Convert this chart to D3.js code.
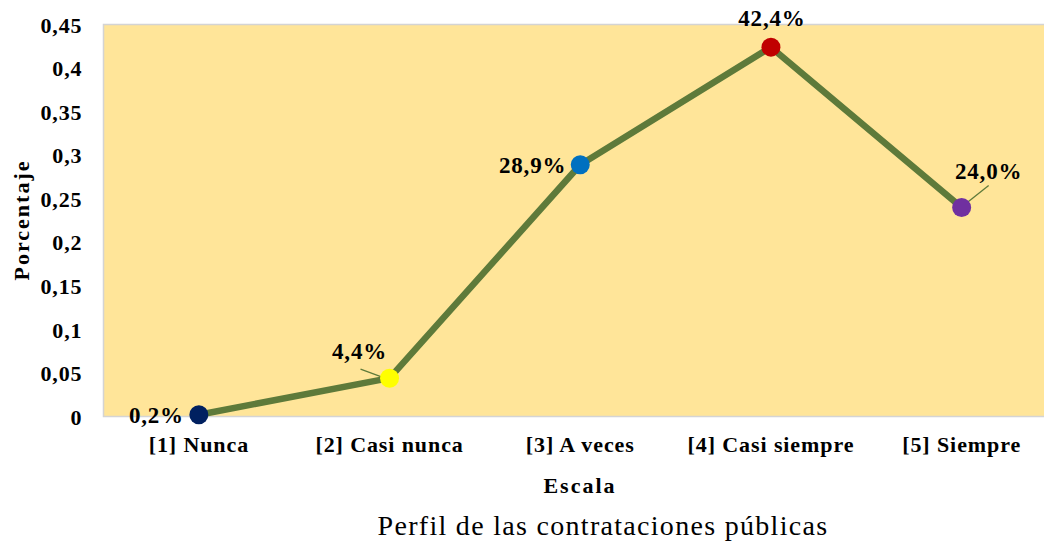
<!DOCTYPE html>
<meta charset="utf-8">
<script src="https://d3js.org/d3.v7.min.js"></script>
<style>
body { margin: 0; background: #fff; }
svg text { font-family: "Liberation Serif", "Times New Roman", serif; fill: black; }
.axis text { font-family: "Liberation Serif", "Times New Roman", serif; font-weight: bold; font-size: 22px; letter-spacing: 0.9px; }
.axis path, .axis line { stroke: none; }
</style>
<body>
<div id="chart"></div>
<script>
// data
var categories = ["[1] Nunca", "[2] Casi nunca", "[3] A veces", "[4] Casi siempre", "[5] Siempre"];
var values = [0.002, 0.044, 0.289, 0.424, 0.240];
var labels = ["0,2%", "4,4%", "28,9%", "42,4%", "24,0%"];
var pointColors = ["#002060", "#FFFF00", "#0070C0", "#C00000", "#7030A0"];
var yTicks = [0, 0.05, 0.1, 0.15, 0.2, 0.25, 0.3, 0.35, 0.4, 0.45];

var W = 1044, H = 541;
var plot = {left: 103.5, right: 1057, top: 24.5, bottom: 416.5};

var svg = d3.select("#chart").append("svg")
  .attr("width", W).attr("height", H);

var x = d3.scaleBand().domain(categories).range([plot.left, plot.right]);
var y = d3.scaleLinear().domain([0, 0.45]).range([plot.bottom, plot.top]);

// plot area
svg.append("rect")
  .attr("x", plot.left).attr("y", plot.top)
  .attr("width", plot.right - plot.left).attr("height", plot.bottom - plot.top)
  .attr("fill", "#FFE599")
  .attr("stroke", "#d4d4d4").attr("stroke-width", 1.5);

// axes
var fmt = function(d){ return String(d).replace(".", ","); };
svg.append("g").attr("class", "axis")
  .attr("transform", "translate(" + (plot.left - 13) + ",0)")
  .call(d3.axisLeft(y).tickValues(yTicks).tickFormat(fmt).tickSize(0).tickPadding(8))
  .selectAll("text").attr("dy", "0.35em");

svg.append("g").attr("class", "axis")
  .attr("transform", "translate(0," + (plot.bottom + 20) + ")")
  .call(d3.axisBottom(x).tickSize(0).tickPadding(0))
  .selectAll("text").attr("dy", "0.72em");

// axis titles
svg.append("text")
  .attr("transform", "translate(29," + 220 + ") rotate(-90)")
  .attr("text-anchor", "middle")
  .style("font-weight", "bold").style("font-size", "22px").style("letter-spacing", "2px")
  .text("Porcentaje");

svg.append("text")
  .attr("x", 580).attr("y", 493)
  .attr("text-anchor", "middle")
  .style("font-weight", "bold").style("font-size", "22px").style("letter-spacing", "2px")
  .text("Escala");

svg.append("text")
  .attr("x", 603).attr("y", 535)
  .attr("text-anchor", "middle")
  .style("font-size", "28px").style("letter-spacing", "1.3px")
  .text("Perfil de las contrataciones públicas");

// line
var pts = categories.map(function(c, i){ return {cat: c, v: values[i], lab: labels[i], col: pointColors[i]}; });
var cx = function(d){ return x(d.cat) + x.bandwidth() / 2; };

svg.append("path")
  .datum(pts)
  .attr("fill", "none")
  .attr("stroke", "#5E7A3A")
  .attr("stroke-width", 6.5)
  .attr("stroke-linejoin", "round")
  .attr("d", d3.line().x(cx).y(function(d){ return y(d.v); }));

// leader lines for two labels
var leaders = [{i: 1, dx1: -29, dy1: -9}, {i: 4, dx1: 27, dy1: -22}];
leaders.forEach(function(l){
  var d = pts[l.i];
  svg.append("line")
    .attr("x1", cx(d) + l.dx1).attr("y1", y(d.v) + l.dy1)
    .attr("x2", cx(d) - 2).attr("y2", y(d.v) + 1)
    .attr("stroke", "#5E7A3A").attr("stroke-width", 1.3);
});

svg.selectAll(".pt").data(pts).enter()
  .append("circle")
  .attr("class", "pt")
  .attr("cx", cx)
  .attr("cy", function(d){ return y(d.v); })
  .attr("r", 9.5)
  .attr("fill", function(d){ return d.col; });

// data labels
var offs = [
  {dx: -15, dy: 8, anchor: "end"},
  {dx: -30, dy: -19, anchor: "middle"},
  {dx: -14, dy: 8, anchor: "end"},
  {dx: 1, dy: -21, anchor: "middle"},
  {dx: 27, dy: -28, anchor: "middle"}
];
svg.selectAll(".lab").data(pts).enter()
  .append("text")
  .attr("class", "lab")
  .attr("x", function(d, i){ return cx(d) + offs[i].dx; })
  .attr("y", function(d, i){ return y(d.v) + offs[i].dy; })
  .attr("text-anchor", function(d, i){ return offs[i].anchor; })
  .style("font-weight", "bold").style("font-size", "23px").style("letter-spacing", "0.8px")
  .text(function(d){ return d.lab; });
</script>
</body>
</html>
